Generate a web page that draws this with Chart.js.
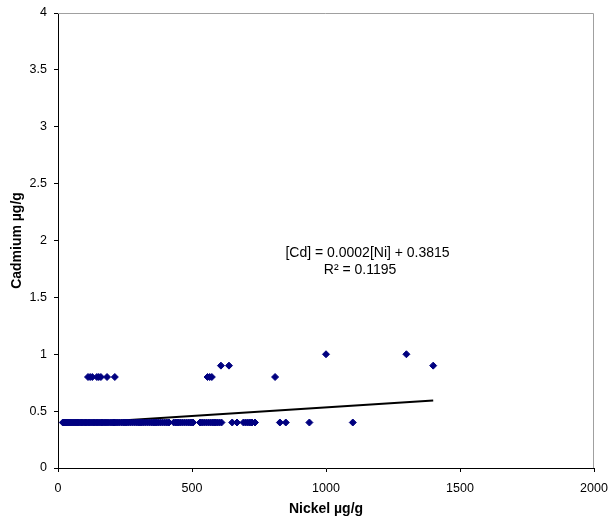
<!DOCTYPE html>
<html>
<head>
<meta charset="utf-8">
<script src="https://cdn.jsdelivr.net/npm/chart.js@4"></script>
<style>
  html, body { margin: 0; padding: 0; background: #fff; }
  #wrap { width: 611px; height: 518px; }
</style>
</head>
<body>
<div id="wrap"><canvas id="cdNiChart" width="611" height="518"></canvas></div>
<script>
// Nickel (x) values, grouped by cadmium level
var nickelAt04 = [
    18, 22, 26, 30, 34, 38, 42, 46, 50, 54, 58, 62, 66, 70, 75, 80, 85, 90, 95, 100,
    105, 110, 116, 122, 128, 134, 140, 146, 152, 158, 164, 170, 176, 182, 188, 195,
    202, 209, 216, 223, 230, 238, 246, 254, 262, 270, 278, 286, 294, 302, 310, 318,
    326, 334, 342, 350, 358, 366, 374, 382, 390, 398, 406, 414, 432, 440, 448, 456,
    464, 472, 480, 488, 496, 504, 530, 538, 546, 554, 562, 570, 578, 586, 594, 602,
    610, 650, 668, 692, 700, 708, 716, 724, 735, 828, 850, 938, 1100
];
var nickelAt08 = [112, 120, 128, 145, 152, 160, 183, 212, 558, 566, 574, 810];
var nickelAt09 = [608, 638, 1400];
var nickelAt10 = [1000, 1300];

var cadmiumLevels = [0.4, 0.8, 0.9, 1.0];

// linear fit shown on the chart
var trendNickel = [20, 1400];
var trendCadmium = [0.385, 0.593];
var fitLabel = ['[Cd] = 0.0002[Ni] + 0.3815', 'R\u00B2 = 0.1195'];

var xTicks = [0, 500, 1000, 1500, 2000];
var yTicks = [0, 0.5, 1, 1.5, 2, 2.5, 3, 3.5, 4];

function toPoints(xs, y) {
    return xs.map(function(x) { return { x: x, y: y }; });
}

var samplePoints = []
    .concat(toPoints(nickelAt04, cadmiumLevels[0]))
    .concat(toPoints(nickelAt08, cadmiumLevels[1]))
    .concat(toPoints(nickelAt09, cadmiumLevels[2]))
    .concat(toPoints(nickelAt10, cadmiumLevels[3]));

var trendPoints = trendNickel.map(function(x, i) { return { x: x, y: trendCadmium[i] }; });

var tickFont = { family: 'Liberation Sans, Arial, sans-serif', size: 12.5 };
var titleFont = { family: 'Liberation Sans, Arial, sans-serif', size: 14, weight: 'bold' };

// gray top/right frame plus the regression label
var framePlugin = {
    id: 'framePlugin',
    beforeDatasetsDraw: function(chart) {
        var a = chart.chartArea, ctx = chart.ctx;
        ctx.save();
        ctx.strokeStyle = '#a0a0a0';
        ctx.lineWidth = 1;
        ctx.beginPath();
        ctx.moveTo(a.left, a.top + 0.5);
        ctx.lineTo(a.right - 0.5, a.top + 0.5);
        ctx.lineTo(a.right - 0.5, a.bottom);
        ctx.stroke();
        ctx.restore();
    },
    afterDatasetsDraw: function(chart) {
        var ctx = chart.ctx, sx = chart.scales.x, sy = chart.scales.y;
        ctx.save();
        ctx.fillStyle = '#000';
        ctx.font = '14px "Liberation Sans", Arial, sans-serif';
        ctx.textAlign = 'center';
        ctx.textBaseline = 'middle';
        ctx.fillText(fitLabel[0], sx.getPixelForValue(1155), sy.getPixelForValue(1.89));
        ctx.fillText(fitLabel[1], sx.getPixelForValue(1127), sy.getPixelForValue(1.74));
        ctx.restore();
    }
};

var ctx = document.getElementById('cdNiChart');
var chart = new Chart(ctx, {
    type: 'scatter',
    data: {
        datasets: [{
            label: 'Samples',
            data: samplePoints,
            pointStyle: 'rectRot',
            pointRadius: 3.5,
            backgroundColor: '#000080',
            borderColor: '#000080',
            borderWidth: 1
        }, {
            label: 'Linear fit',
            data: trendPoints,
            showLine: true,
            pointRadius: 0,
            borderColor: '#000',
            borderWidth: 2
        }]
    },
    options: {
        responsive: false,
        animation: false,
        layout: { padding: { left: 0, right: 17, top: 13, bottom: 0 } },
        plugins: {
            legend: { display: false },
            tooltip: { enabled: false }
        },
        scales: {
            x: {
                type: 'linear',
                min: 0,
                max: 2000,
                afterBuildTicks: function(s) { s.ticks = xTicks.map(function(v) { return { value: v }; }); },
                afterFit: function(s) { s.height = 50; s.paddingLeft = 0; s.paddingRight = 0; },
                ticks: {
                    color: '#000', font: tickFont, padding: 9, maxRotation: 0,
                    callback: function(v) { return String(v); }
                },
                grid: { drawOnChartArea: false, drawTicks: true, tickLength: 4, color: '#000' },
                border: { color: '#000', width: 1 },
                title: { display: true, text: 'Nickel µg/g', color: '#000', font: titleFont, padding: { top: 2, bottom: 0 } }
            },
            y: {
                type: 'linear',
                min: 0,
                max: 4,
                afterBuildTicks: function(s) { s.ticks = yTicks.map(function(v) { return { value: v }; }); },
                afterFit: function(s) { s.width = 58; s.paddingTop = 0; s.paddingBottom = 0; },
                ticks: {
                    color: '#000', font: tickFont, padding: 7,
                    callback: function(v) { return String(v); }
                },
                grid: { drawOnChartArea: false, drawTicks: true, tickLength: 4, color: '#000' },
                border: { color: '#000', width: 1 },
                title: { display: true, text: 'Cadmium µg/g', color: '#000', font: titleFont, padding: { top: 9, bottom: 4 } }
            }
        }
    },
    plugins: [framePlugin]
});
</script>
</body>
</html>
